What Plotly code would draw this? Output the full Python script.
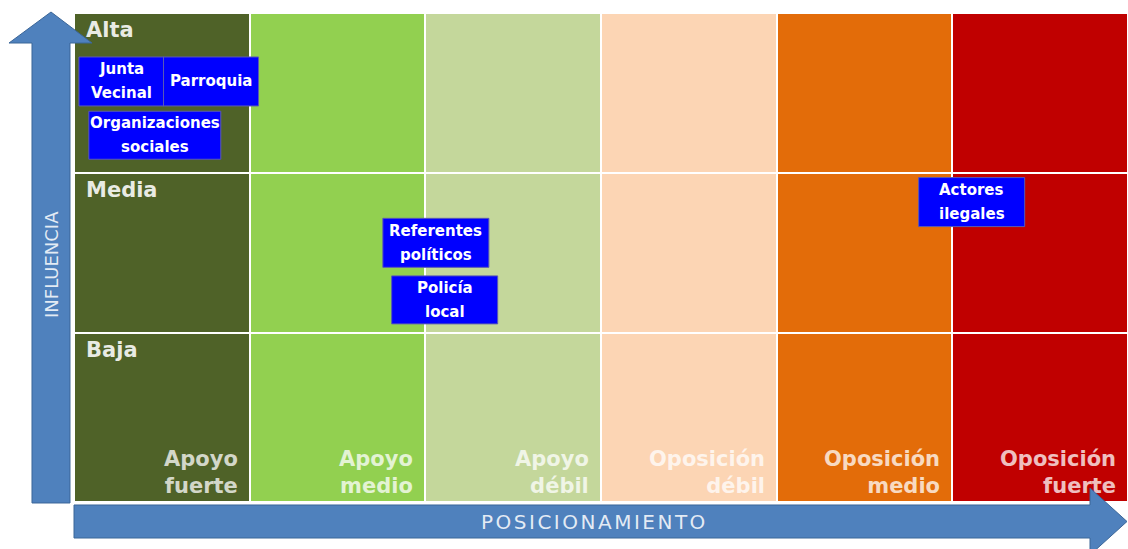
import plotly.graph_objects as go

# ---------------- data ----------------
positions = ["Apoyo fuerte", "Apoyo medio", "Apoyo débil",
             "Oposición débil", "Oposición medio", "Oposición fuerte"]
influence_levels = ["Baja", "Media", "Alta"]          # bottom -> top
row_edges = [0, 1.037, 2.021, 3]                       # influence scale edges
col_edges = [0, 1, 2, 3, 4, 5, 6]

actors = ["Junta<br>Vecinal", "Parroquia", "Organizaciones<br>sociales",
          "Referentes<br>políticos", "Policía<br>local", "Actores<br>ilegales"]
actor_pos = [0.27, 0.78, 0.46, 2.06, 2.11, 5.11]        # posicionamiento
actor_inf = [2.58, 2.58, 2.25, 1.59, 1.24, 1.84]        # influencia

x_title = "POSICIONAMIENTO"
y_title = "INFLUENCIA"

# ---------------- style ----------------
col_colors = ["#4F6228", "#92D050", "#C4D79B", "#FCD5B4", "#E36C09", "#C00000"]
box_w = [85, 95, 132, 106, 106, 106]
box_h = [49, 49, 48, 49, 48, 49]
FONT = "DejaVu Sans"
W, H = 1128, 549
L, R, T, B = 74, 0, 13, 47

def pp(px, py):
    """pixel -> paper coordinates"""
    return ((px - L) / (W - L - R), ((H - B) - py) / (H - T - B))

fig = go.Figure()

n = len(positions)
z = [[i for i in range(n)] for _ in influence_levels]
cs = [[i / (n - 1), c] for i, c in enumerate(col_colors)]
fig.add_trace(go.Heatmap(
    x=col_edges, y=row_edges, z=z, colorscale=cs, zmin=0, zmax=n - 1,
    showscale=False, xgap=2, ygap=2, hoverinfo="skip"))

shapes = []
annotations = []

# arrows
def path(points):
    pts = [pp(*p) for p in points]
    return "M " + " L ".join(f"{x:.5f},{y:.5f}" for x, y in pts) + " Z"

arrow_style = dict(type="path", xref="paper", yref="paper",
                   fillcolor="#4F81BD", line=dict(color="#3B6698", width=1),
                   layer="above")
shapes.append(dict(path=path([(32, 503), (70, 503), (70, 43), (92, 43),
                              (51, 12), (9, 43), (32, 43)]), **arrow_style))
shapes.append(dict(path=path([(74, 505), (1090, 505), (1090, 488),
                              (1127, 521.5), (1090, 555), (1090, 538),
                              (74, 538)]), **arrow_style))

ax, ay = pp(51, 265)
annotations.append(dict(xref="paper", yref="paper", x=ax, y=ay, text=y_title,
                        textangle=-90, showarrow=False,
                        xanchor="center", yanchor="middle",
                        font=dict(family=FONT, size=18, color="rgba(255,255,255,0.85)")))
bx, by = pp(594, 521.5)
annotations.append(dict(xref="paper", yref="paper", x=bx, y=by,
                        text=f"<span style='letter-spacing:2.5px'>{x_title}</span>",
                        showarrow=False, xanchor="center", yanchor="middle",
                        font=dict(family=FONT, size=20, color="rgba(255,255,255,0.85)")))

# row labels
for i, lvl in enumerate(influence_levels):
    annotations.append(dict(x=0, y=row_edges[i + 1], xref="x", yref="y",
                            text=f"<b>{lvl}</b>", showarrow=False,
                            xanchor="left", yanchor="top", xshift=10, yshift=-3,
                            font=dict(family=FONT, size=21, color="rgba(255,255,255,0.88)")))

# column labels
for i, p in enumerate(positions):
    a, b = p.split(" ")
    annotations.append(dict(x=i + 1, y=0, xref="x", yref="y",
                            text=f"<b>{a}<br>{b}</b>", showarrow=False, align="right",
                            xanchor="right", yanchor="bottom", xshift=-10, yshift=2,
                            font=dict(family=FONT, size=21, color="rgba(255,255,255,0.75)")))

# actor boxes
for name, xv, yv, w, h in zip(actors, actor_pos, actor_inf, box_w, box_h):
    shapes.append(dict(type="rect", xref="x", yref="y",
                       xsizemode="pixel", ysizemode="pixel",
                       xanchor=xv, yanchor=yv,
                       x0=-w / 2, x1=w / 2, y0=-h / 2, y1=h / 2,
                       fillcolor="#0000FF", line=dict(color="#5A5AB4", width=1),
                       layer="above"))
    lines = name.split("<br>")
    k = len(lines)
    for j, ln in enumerate(lines):
        shift = (k - 1) / 2 * 24 - j * 24
        annotations.append(dict(x=xv, y=yv, xref="x", yref="y", text=f"<b>{ln}</b>",
                                showarrow=False, yshift=shift,
                                font=dict(family=FONT, size=15, color="white")))

fig.update_layout(
    width=W, height=H, margin=dict(l=L, r=R, t=T, b=B, pad=0),
    paper_bgcolor="white", plot_bgcolor="white",
    xaxis=dict(range=[0, 6], visible=False, fixedrange=True),
    yaxis=dict(range=[0, 3], visible=False, fixedrange=True),
    shapes=shapes, annotations=annotations, showlegend=False)

fig.write_html("out.html", config={"displayModeBar": False},
               post_script="document.body.style.margin='0';")
